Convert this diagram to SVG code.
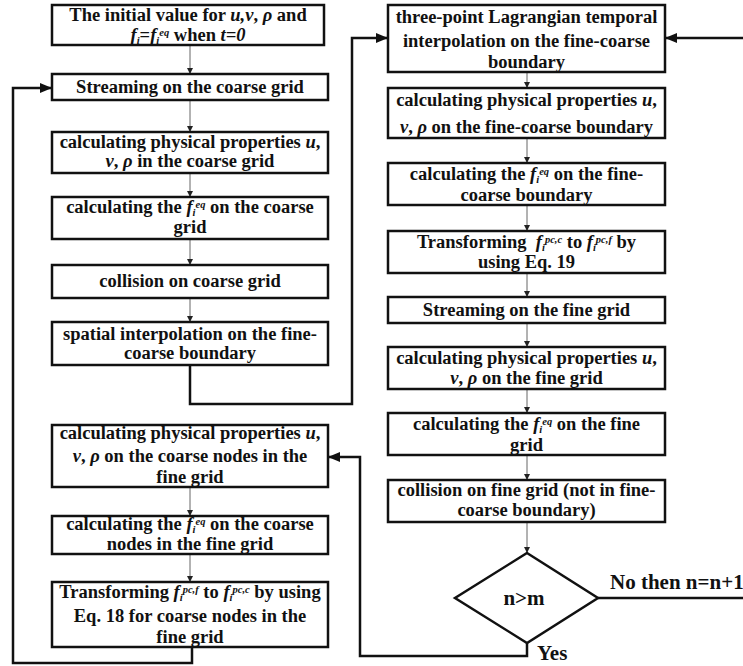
<svg xmlns="http://www.w3.org/2000/svg" width="743" height="666" viewBox="0 0 743 666">
<style>
.box{fill:#fff;stroke:#111;stroke-width:2.5}
.t{font-family:"Liberation Serif","Times New Roman",serif;font-weight:bold;font-size:18.5px;text-anchor:middle;fill:#111}
.big{font-size:21px}
.i{font-style:italic}
.s{font-size:10.5px;font-style:italic}
.thin{stroke:#666;stroke-width:1;fill:none;marker-end:url(#a)}
.thick{stroke:#111;stroke-width:2.5;fill:none}
.thickA{stroke:#111;stroke-width:2.5;fill:none;marker-end:url(#b)}
</style>
<defs>
<marker id="a" markerUnits="userSpaceOnUse" markerWidth="8" markerHeight="8" refX="6" refY="3" orient="auto"><path d="M0,0 L6,3 L0,6 Z" fill="#222"/></marker>
<marker id="b" markerUnits="userSpaceOnUse" markerWidth="14" markerHeight="14" refX="12" refY="5" orient="auto"><path d="M0,0 L12,5 L0,10 Z" fill="#111"/></marker>
</defs>
<rect width="743" height="666" fill="#fff"/>

<g id="connectors">
<line class="thin" x1="190" y1="45" x2="190" y2="74"/>
<line class="thin" x1="190" y1="100" x2="190" y2="132"/>
<line class="thin" x1="190" y1="173" x2="190" y2="197"/>
<line class="thin" x1="190" y1="239" x2="190" y2="265"/>
<line class="thin" x1="190" y1="298" x2="190" y2="322"/>
<line class="thin" x1="190" y1="487" x2="190" y2="516"/>
<line class="thin" x1="190" y1="554" x2="190" y2="582"/>
<line class="thin" x1="527" y1="72" x2="527" y2="88"/>
<line class="thin" x1="527" y1="138" x2="527" y2="163"/>
<line class="thin" x1="527" y1="205" x2="527" y2="231"/>
<line class="thin" x1="527" y1="273" x2="527" y2="297"/>
<line class="thin" x1="527" y1="323" x2="527" y2="347"/>
<line class="thin" x1="527" y1="389" x2="527" y2="413"/>
<line class="thin" x1="527" y1="455" x2="527" y2="480"/>
<line class="thin" x1="527" y1="522" x2="527" y2="553"/>
<polyline class="thickA" points="192,647 192,663 13,663 13,88 52,88"/>
<polyline class="thickA" points="190,365 190,404 352,404 352,38 388,38"/>
<polyline class="thickA" points="527,643 527,656 360,656 360,457 328,457"/>
<line class="thickA" x1="743" y1="38" x2="665" y2="38"/>
<line class="thick" x1="598" y1="598" x2="743" y2="598"/>
</g>

<g id="n1"><rect class="box" x="52" y="5" width="272" height="40"/>
<text class="t" x="188" y="21">The initial value for <tspan class="i">u,v</tspan>, <tspan class="i">ρ</tspan> and</text>
<text class="t" x="188" y="41"><tspan class="i">f</tspan><tspan class="s" dy="3">i</tspan><tspan dy="-3">=</tspan><tspan class="i">f</tspan><tspan class="s" dy="3">i</tspan><tspan class="s" dy="-8">eq</tspan><tspan dy="5"> when </tspan><tspan class="i">t=0</tspan></text></g>

<g id="n2"><rect class="box" x="52" y="74" width="276" height="26"/>
<text class="t" x="190" y="93">Streaming on the coarse grid</text></g>

<g id="n3"><rect class="box" x="52" y="132" width="276" height="41"/>
<text class="t" x="190" y="148">calculating physical properties <tspan class="i">u</tspan>,</text>
<text class="t" x="190" y="167"><tspan class="i">v</tspan>, <tspan class="i">ρ</tspan> in the coarse grid</text></g>

<g id="n4"><rect class="box" x="52" y="197" width="276" height="42"/>
<text class="t" x="190" y="213">calculating the <tspan class="i">f</tspan><tspan class="s" dy="3">i</tspan><tspan class="s" dy="-8">eq</tspan><tspan dy="5"> on the coarse</tspan></text>
<text class="t" x="190" y="233">grid</text></g>

<g id="n5"><rect class="box" x="52" y="265" width="276" height="33"/>
<text class="t" x="190" y="287">collision on coarse grid</text></g>

<g id="n6"><rect class="box" x="52" y="322" width="276" height="43"/>
<text class="t" x="190" y="340">spatial interpolation on the fine-</text>
<text class="t" x="190" y="359">coarse boundary</text></g>

<g id="n7"><rect class="box" x="52" y="425" width="276" height="62"/>
<text class="t" x="190" y="439">calculating physical properties <tspan class="i">u</tspan>,</text>
<text class="t" x="190" y="462"><tspan class="i">v</tspan>, <tspan class="i">ρ</tspan> on the coarse nodes in the</text>
<text class="t" x="190" y="483">fine grid</text></g>

<g id="n8"><rect class="box" x="52" y="516" width="276" height="38"/>
<text class="t" x="190" y="530">calculating the <tspan class="i">f</tspan><tspan class="s" dy="3">i</tspan><tspan class="s" dy="-8">eq</tspan><tspan dy="5"> on the coarse</tspan></text>
<text class="t" x="190" y="550">nodes in the fine grid</text></g>

<g id="n9"><rect class="box" x="52" y="582" width="276" height="65"/>
<text class="t" x="190" y="598">Transforming <tspan class="i">f</tspan><tspan class="s" dy="3">i</tspan><tspan class="s" dy="-8">pc,f</tspan><tspan dy="5"> to </tspan><tspan class="i">f</tspan><tspan class="s" dy="3">i</tspan><tspan class="s" dy="-8">pc,c</tspan><tspan dy="5"> by using</tspan></text>
<text class="t" x="190" y="622">Eq. 18 for coarse nodes in the</text>
<text class="t" x="190" y="643">fine grid</text></g>

<g id="r1"><rect class="box" x="388" y="5" width="277" height="67"/>
<text class="t" x="526.5" y="23">three-point Lagrangian temporal</text>
<text class="t" x="526.5" y="47">interpolation on the fine-coarse</text>
<text class="t" x="526.5" y="68">boundary</text></g>

<g id="r2"><rect class="box" x="388" y="88" width="277" height="50"/>
<text class="t" x="526.5" y="106">calculating physical properties <tspan class="i">u</tspan>,</text>
<text class="t" x="526.5" y="133"><tspan class="i">v</tspan>, <tspan class="i">ρ</tspan> on the fine-coarse boundary</text></g>

<g id="r3"><rect class="box" x="388" y="163" width="277" height="42"/>
<text class="t" x="526.5" y="180">calculating the <tspan class="i">f</tspan><tspan class="s" dy="3">i</tspan><tspan class="s" dy="-8">eq</tspan><tspan dy="5"> on the fine-</tspan></text>
<text class="t" x="526.5" y="201">coarse boundary</text></g>

<g id="r4"><rect class="box" x="388" y="231" width="277" height="42"/>
<text class="t" x="526.5" y="248" xml:space="preserve">Transforming  <tspan class="i">f</tspan><tspan class="s" dy="3">i</tspan><tspan class="s" dy="-8">pc,c</tspan><tspan dy="5"> to </tspan><tspan class="i">f</tspan><tspan class="s" dy="3">i</tspan><tspan class="s" dy="-8">pc,f</tspan><tspan dy="5"> by</tspan></text>
<text class="t" x="526.5" y="268">using Eq. 19</text></g>

<g id="r5"><rect class="box" x="388" y="297" width="277" height="26"/>
<text class="t" x="526.5" y="316">Streaming on the fine grid</text></g>

<g id="r6"><rect class="box" x="388" y="347" width="277" height="42"/>
<text class="t" x="526.5" y="364">calculating physical properties <tspan class="i">u</tspan>,</text>
<text class="t" x="526.5" y="384"><tspan class="i">v</tspan>, <tspan class="i">ρ</tspan> on the fine grid</text></g>

<g id="r7"><rect class="box" x="388" y="413" width="277" height="42"/>
<text class="t" x="526.5" y="430">calculating the <tspan class="i">f</tspan><tspan class="s" dy="3">i</tspan><tspan class="s" dy="-8">eq</tspan><tspan dy="5"> on the fine</tspan></text>
<text class="t" x="526.5" y="451">grid</text></g>

<g id="r8"><rect class="box" x="388" y="480" width="277" height="42"/>
<text class="t" x="526.5" y="496">collision on fine grid (not in fine-</text>
<text class="t" x="526.5" y="516">coarse boundary)</text></g>

<g id="d1"><polygon class="box" points="527,553 598,598 527,643 455,598"/>
<text class="t big" x="524" y="605">n&gt;m</text></g>

<g id="labels">
<text class="t big" x="610" y="589" style="text-anchor:start">No then n=n+1</text>
<text class="t big" x="537" y="660" style="text-anchor:start">Yes</text>
</g>
</svg>
